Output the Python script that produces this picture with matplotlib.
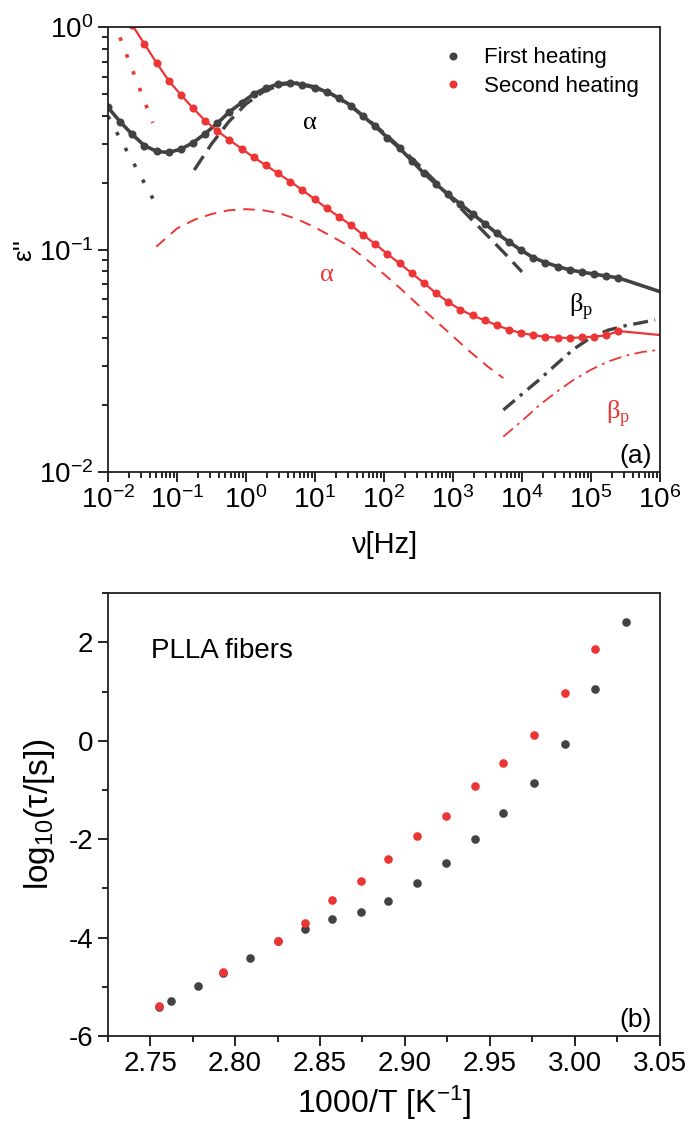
import numpy as np
import matplotlib.pyplot as plt
from matplotlib.ticker import LogLocator, MultipleLocator, NullFormatter

plt.rcParams['font.family'] = ['Liberation Sans', 'DejaVu Sans']
plt.rcParams['mathtext.fontset'] = 'custom'
plt.rcParams['mathtext.rm'] = 'Liberation Sans'
plt.rcParams['mathtext.it'] = 'Liberation Sans:italic'
plt.rcParams['axes.unicode_minus'] = False

GRAY = '#424242'
RED = '#ee3535'

# ---- panel (a): dielectric loss spectra, log10 values ----
# measured frequencies (log10 Hz), step of a factor 1.5
log_freq = [-2.000, -1.824, -1.648, -1.472, -1.296, -1.120, -0.943, -0.767, -0.591, -0.415,
            -0.239, -0.063, 0.113, 0.289, 0.465, 0.642, 0.818, 0.994, 1.170, 1.346,
            1.522, 1.698, 1.874, 2.050, 2.227, 2.403, 2.579, 2.755, 2.931, 3.107,
            3.283, 3.460, 3.636, 3.812, 3.988, 4.164, 4.340, 4.516, 4.692, 4.868,
            5.045, 5.221, 5.397]
first_heat = [-0.360, -0.425, -0.482, -0.532, -0.558, -0.563, -0.548, -0.519, -0.478, -0.432,
              -0.380, -0.339, -0.300, -0.273, -0.256, -0.249, -0.258, -0.272, -0.290, -0.318,
              -0.352, -0.400, -0.446, -0.496, -0.544, -0.600, -0.657, -0.705, -0.752, -0.795,
              -0.839, -0.883, -0.927, -0.965, -1.003, -1.036, -1.058, -1.076, -1.091, -1.101,
              -1.110, -1.119, -1.127]
second_heat = [0.160, 0.080, 0.010, -0.075, -0.160, -0.240, -0.304, -0.364, -0.420, -0.466,
               -0.507, -0.546, -0.585, -0.621, -0.657, -0.694, -0.732, -0.773, -0.814, -0.852,
               -0.890, -0.934, -0.975, -1.020, -1.062, -1.106, -1.150, -1.196, -1.236, -1.270,
               -1.296, -1.318, -1.340, -1.360, -1.375, -1.385, -1.392, -1.396, -1.397, -1.395,
               -1.391, -1.386, -1.366]
# fit curves continue up to 1 MHz
fit_end_logf = 6.0
first_fit_end = -1.189
second_fit_end = -1.384

# fit components (log10 Hz, log10 eps'')
alpha1_logf = [-0.75, -0.5, -0.25, 0.0, 0.25, 0.5, 0.75, 1.0, 1.25, 1.5, 1.75, 2.0, 2.25,
               2.5, 2.75, 3.0, 3.25, 3.5, 3.75, 4.0]
alpha1_val = [-0.642, -0.525, -0.425, -0.345, -0.290, -0.258, -0.250, -0.268, -0.302, -0.352,
              -0.410, -0.475, -0.545, -0.618, -0.695, -0.778, -0.858, -0.937, -1.017, -1.100]
beta1_logf = [3.73, 4.0, 4.25, 4.5, 4.75, 5.0, 5.25, 5.5, 5.75, 5.93]
beta1_val = [-1.721, -1.650, -1.585, -1.515, -1.447, -1.395, -1.362, -1.342, -1.327, -1.316]
cond1_logf = [-2.0, -1.28]
cond1_val = [-0.400, -0.810]

alpha2_logf = [-1.30, -1.0, -0.75, -0.5, -0.25, 0.0, 0.25, 0.5, 0.75, 1.0, 1.25, 1.5, 1.75,
               2.0, 2.25, 2.5, 2.75, 3.0, 3.25, 3.5, 3.73]
alpha2_val = [-0.987, -0.905, -0.866, -0.840, -0.823, -0.818, -0.823, -0.838, -0.864, -0.900,
              -0.942, -0.985, -1.045, -1.110, -1.178, -1.250, -1.320, -1.390, -1.460, -1.525,
              -1.578]
beta2_logf = [3.73, 4.0, 4.25, 4.5, 4.75, 5.0, 5.25, 5.5, 5.75, 5.98]
beta2_val = [-1.841, -1.770, -1.700, -1.640, -1.585, -1.540, -1.503, -1.477, -1.460, -1.451]
cond2_logf = [-1.92, -1.35]
cond2_val = [0.030, -0.430]

# ---- panel (b): relaxation map ----
invT_first = [2.755, 2.762, 2.778, 2.793, 2.809, 2.825, 2.841, 2.857, 2.874, 2.890,
              2.907, 2.924, 2.941, 2.958, 2.976, 2.994, 3.012, 3.030]
logtau_first = [-5.42, -5.28, -4.99, -4.72, -4.41, -4.08, -3.83, -3.62, -3.48, -3.25,
                -2.90, -2.48, -2.00, -1.46, -0.86, -0.06, 1.05, 2.42]
invT_second = [2.755, 2.793, 2.825, 2.841, 2.857, 2.874, 2.890, 2.907, 2.924, 2.941,
               2.958, 2.976, 2.994, 3.012]
logtau_second = [-5.40, -4.69, -4.06, -3.70, -3.24, -2.86, -2.41, -1.94, -1.53, -0.92,
                 -0.45, 0.12, 0.97, 1.86]


def p10(v):
    return 10 ** np.asarray(v, dtype=float)


fig = plt.figure(figsize=(6.89, 11.27), dpi=100)
ax1 = fig.add_axes([0.1567, 0.5812, 0.8012, 0.3946])
ax2 = fig.add_axes([0.1563, 0.0808, 0.8012, 0.3928])

# fit lines
ax1.plot(p10(log_freq + [fit_end_logf]), p10(first_heat + [first_fit_end]), color=GRAY, lw=2.6)
ax1.plot(p10(log_freq + [fit_end_logf]), p10(second_heat + [second_fit_end]), color=RED, lw=1.6)

# components
ax1.plot(p10(alpha1_logf), p10(alpha1_val), color=GRAY, lw=2.4, ls=(0, (5, 2.5)))
ax1.plot(p10(beta1_logf), p10(beta1_val), color=GRAY, lw=2.4, ls=(0, (4.5, 2, 1, 2)))
ax1.plot(p10(cond1_logf), p10(cond1_val), color=GRAY, lw=2.6, ls=(0, (1, 4)))
ax1.plot(p10(alpha2_logf), p10(alpha2_val), color=RED, lw=1.4, ls=(0, (6, 4)))
ax1.plot(p10(beta2_logf), p10(beta2_val), color=RED, lw=1.3, ls=(0, (7, 3, 1.5, 3)))
ax1.plot(p10(cond2_logf), p10(cond2_val), color=RED, lw=2.6, ls=(0, (1, 4)))

# data points
ax1.plot(p10(log_freq), p10(first_heat), 'o', color=GRAY, ms=5.8, mec='none', label='First heating')
ax1.plot(p10(log_freq), p10(second_heat), 'o', color=RED, ms=5.8, mec='none', label='Second heating')

ax1.set_xscale('log')
ax1.set_yscale('log')
ax1.set_xlim(1e-2, 1e6)
ax1.set_ylim(1e-2, 1e0)
ax1.xaxis.set_major_locator(LogLocator(base=10, numticks=20))
ax1.xaxis.set_minor_locator(LogLocator(base=10, subs=np.arange(2, 10), numticks=20))
ax1.xaxis.set_minor_formatter(NullFormatter())
ax1.yaxis.set_minor_formatter(NullFormatter())
ax1.set_xlabel('ν[Hz]', fontsize=21, labelpad=12)
ax1.set_ylabel("ε''", fontsize=19, labelpad=2)

ax1.text(8.5, 0.371, 'α', color='black', fontsize=19, family='Liberation Serif', ha='center', va='center')
ax1.text(14.8, 0.0769, 'α', color=RED, fontsize=19, family='Liberation Serif', ha='center', va='center')
ax1.text(7.3e4, 0.0554, r'β$_\mathregular{p}$', color='black', fontsize=19, family='Liberation Serif',
         ha='center', va='center')
ax1.text(2.46e5, 0.01837, r'β$_\mathregular{p}$', color=RED, fontsize=19, family='Liberation Serif',
         ha='center', va='center')
ax1.text(0.985, 0.035, '(a)', transform=ax1.transAxes, fontsize=19, ha='right', va='center')

ax1.legend(loc='upper left', bbox_to_anchor=(0.605, 0.955), frameon=False, fontsize=16,
           handlelength=1.0, handletextpad=0.9, labelspacing=0.35, borderpad=0, borderaxespad=0)

# panel (b)
ax2.plot(invT_first, logtau_first, 'o', color=GRAY, ms=6.2, mec='none')
ax2.plot(invT_second, logtau_second, 'o', color=RED, ms=6.2, mec='none')
ax2.set_xlim(2.725, 3.05)
ax2.set_ylim(-6, 3)
ax2.xaxis.set_major_locator(MultipleLocator(0.05))
ax2.xaxis.set_minor_locator(MultipleLocator(0.025))
ax2.yaxis.set_major_locator(MultipleLocator(2))
ax2.yaxis.set_minor_locator(MultipleLocator(1))
ax2.xaxis.set_major_formatter(plt.FormatStrFormatter('%.2f'))
ax2.set_xlabel(r'1000/T [K$^{-1}$]', fontsize=23, labelpad=5)
ax2.set_ylabel(r'log$_{10}$(τ/[s])', fontsize=24, labelpad=8)
ax2.text(0.078, 0.87, 'PLLA fibers', transform=ax2.transAxes, fontsize=20, ha='left', va='center')
ax2.text(0.985, 0.036, '(b)', transform=ax2.transAxes, fontsize=19, ha='right', va='center')

for ax in (ax1, ax2):
    for sp in ax.spines.values():
        sp.set_linewidth(1.3)
        sp.set_color('#222222')
    ax.tick_params(which='both', direction='out', top=False, right=False, width=1.2, labelsize=20)
    ax.tick_params(which='major', length=7)
    ax.tick_params(which='minor', length=4)

fig.savefig('out.png', dpi=100)
